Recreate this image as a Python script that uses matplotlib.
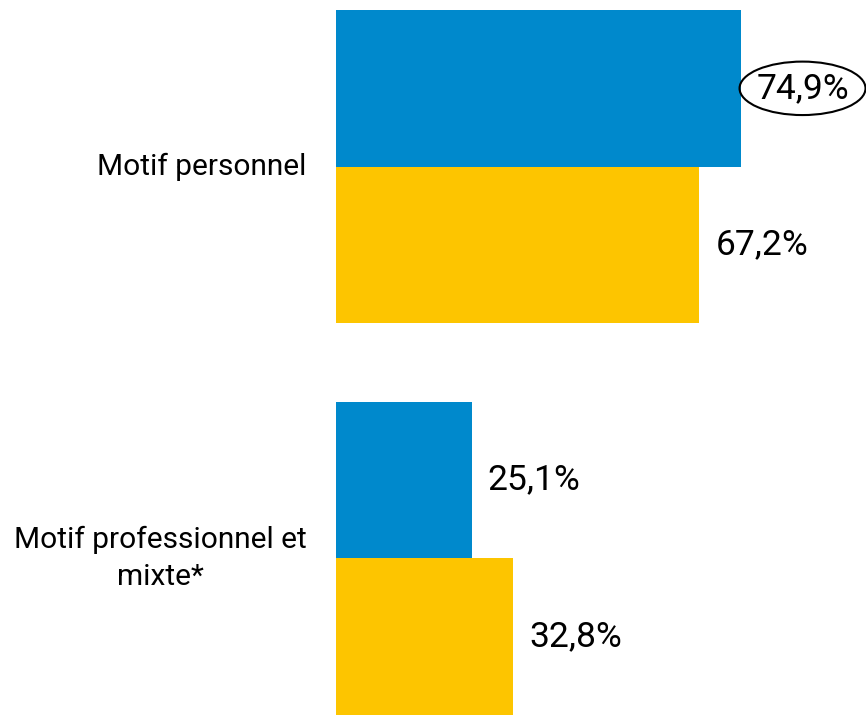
import numpy as np
import matplotlib
matplotlib.use("Agg")
import matplotlib.pyplot as plt
from matplotlib.patches import Ellipse

plt.rcParams['font.family'] = ['Roboto', 'DejaVu Sans']

categories = ["Motif personnel", "Motif professionnel et\nmixte*"]
blue_vals = [74.9, 25.1]
yellow_vals = [67.2, 32.8]
blue_labels = ["74,9%", "25,1%"]
yellow_labels = ["67,2%", "32,8%"]

blue = '#0089CC'
yellow = '#FDC500'

fig = plt.figure(figsize=(8.66, 7.15), dpi=100)
ax = fig.add_axes([336/866, 0, 530/866, 705/715])

centers = np.array([3.5, 1.0])
h = 1.0
ax.barh(centers + h/2, blue_vals, height=h, color=blue)
ax.barh(centers - h/2, yellow_vals, height=h, color=yellow)

ax.set_xlim(0, 98)
ax.set_ylim(0, 4.5)
ax.axis('off')

for c, name in zip(centers, categories):
    ax.text(-5.4, c, name, ha='right', va='center', multialignment='center',
            fontsize=21.5, color='black', linespacing=1.38)

txts = []
for c, v, lab in zip(centers, blue_vals, blue_labels):
    txts.append(ax.text(v + 2.8, c + h/2, lab, ha='left', va='center', fontsize=25.5))
for c, v, lab in zip(centers, yellow_vals, yellow_labels):
    ax.text(v + 3.0, c - h/2, lab, ha='left', va='center', fontsize=25.5)

# ellipse around the highlighted value
fig.canvas.draw()
bb = txts[0].get_window_extent().transformed(ax.transData.inverted())
cx = (bb.x0 + bb.x1) / 2
cy = (bb.y0 + bb.y1) / 2
ax.add_patch(Ellipse((cx, cy), (bb.x1 - bb.x0) * 1.36, (bb.y1 - bb.y0) * 1.62,
                     fill=False, edgecolor='black', lw=1.5, clip_on=False))

fig.savefig('out.png', dpi=100)
